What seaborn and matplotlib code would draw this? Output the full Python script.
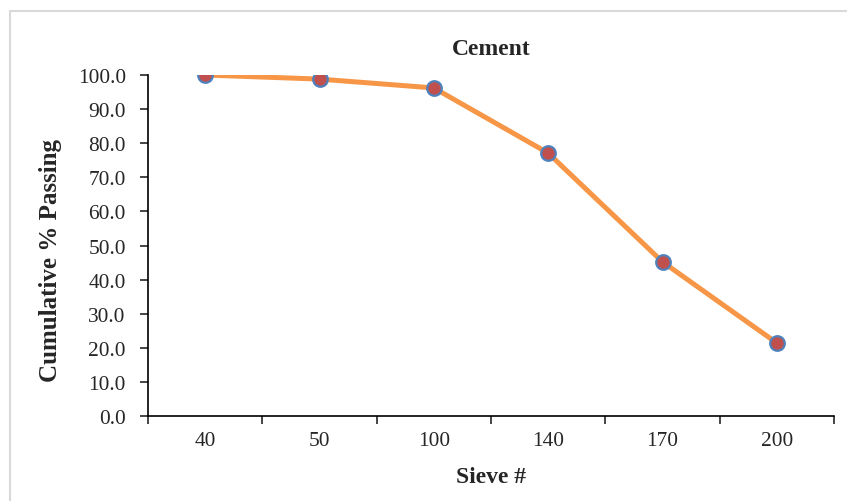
import pandas as pd
import matplotlib
matplotlib.use('Agg')
import matplotlib.pyplot as plt
import seaborn as sns
from matplotlib.patches import Rectangle

# Sieve analysis data
sieves = ['40', '50', '100', '140', '170', '200']
passing = [100.0, 98.8, 96.2, 77.1, 45.2, 21.4]
y_ticks = [0, 10, 20, 30, 40, 50, 60, 70, 80, 90, 100]

df = pd.DataFrame({'sieve': sieves, 'passing': passing})

sns.set_style('white')
plt.rcParams['font.family'] = ['Liberation Serif', 'DejaVu Serif']

fig = plt.figure(figsize=(8.47, 5.02), dpi=100)
ax = fig.add_axes([148 / 847, 1 - 417 / 502, (834 - 148) / 847, (417 - 76) / 502])

# chart area border (light gray)
fig.patches.append(Rectangle((10 / 847, -0.05), 2.0, (1 - 12 / 502) + 0.05,
                             transform=fig.transFigure, fill=False,
                             edgecolor='#D9D9D9', linewidth=1.5))

sns.lineplot(data=df, x='sieve', y='passing', sort=False, ax=ax,
             color='#F79646', linewidth=3.6, marker='o', markersize=10.5,
             markerfacecolor='#C0504D', markeredgecolor='#4F81BD',
             markeredgewidth=1.6)

ax.set_xlim(-0.5, len(sieves) - 0.5)
ax.set_ylim(0, 100)
ax.set_yticks(y_ticks)
ax.set_yticklabels([f'{v:.1f}' for v in y_ticks])

# category labels at centres, tick marks on category boundaries
ax.set_xticks(range(len(sieves)))
ax.set_xticklabels(sieves)
ax.set_xticks([i - 0.5 for i in range(len(sieves) + 1)], minor=True)
ax.tick_params(axis='x', which='major', length=0, pad=11, labelsize=15.4)
ax.tick_params(axis='x', which='minor', length=6, width=1.2, direction='out', bottom=True)
ax.tick_params(axis='y', which='major', length=6, width=1.2, direction='out', left=True,
               pad=10, labelsize=15.4)

for side in ['top', 'right']:
    ax.spines[side].set_visible(False)
for side in ['left', 'bottom']:
    ax.spines[side].set_color('black')
    ax.spines[side].set_linewidth(1.2)

ax.set_title('Cement', fontsize=17, fontweight='bold', pad=15)
ax.set_xlabel('Sieve #', fontsize=17, fontweight='bold', labelpad=11)
ax.set_ylabel('Cumulative % Passing', fontsize=18, fontweight='bold')
ax.yaxis.set_label_coords((62 - 148) / 686, (417 - 261) / 341)

fig.savefig('out.png', dpi=100)
